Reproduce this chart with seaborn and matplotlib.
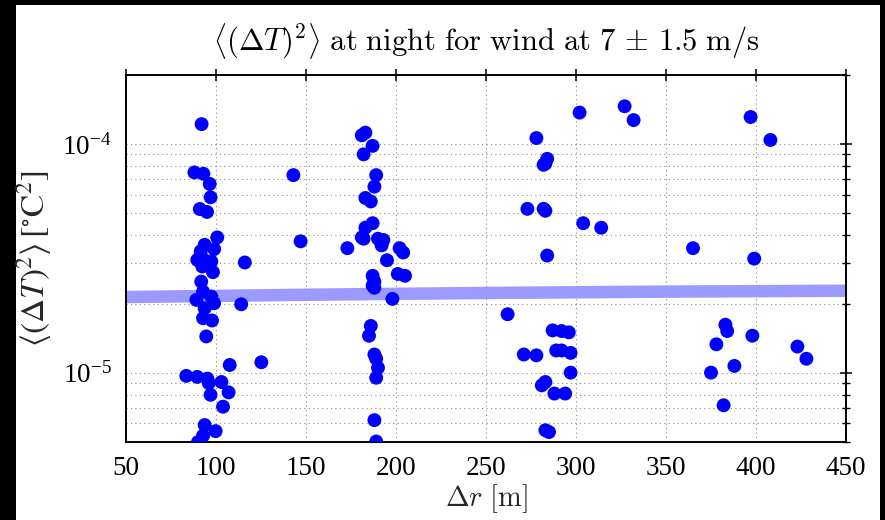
import matplotlib
matplotlib.use("Agg")
import matplotlib.pyplot as plt
import matplotlib.ticker as mticker
from matplotlib.patches import Rectangle
import numpy as np
import pandas as pd
import seaborn as sns

# separation distance [m] and temperature-difference variance [°C^2],
# grouped by sensor-pair spacing
dr_100 = [92, 88, 93, 96.5, 97, 91, 95, 100.7, 93.7, 99, 91.5, 89.6, 93, 97.4,
          92.4, 98.3, 116, 91.8, 92.8, 89.1, 97.4, 98.9, 93.7, 114, 92.8, 97.8,
          94.6, 107.6, 125.2, 83.5, 89.6, 95.2, 96, 103, 97, 107, 103.9, 93.7,
          99.8, 92.8, 90]
var_100 = [1.22e-4, 7.5e-5, 7.4e-5, 6.68e-5, 5.84e-5, 5.19e-5, 5.04e-5, 3.9e-5,
           3.62e-5, 3.47e-5, 3.39e-5, 3.11e-5, 3.13e-5, 3.06e-5, 2.91e-5, 2.75e-5,
           3.03e-5, 2.5e-5, 2.26e-5, 2.08e-5, 2.15e-5, 2.01e-5, 1.91e-5, 1.99e-5,
           1.73e-5, 1.69e-5, 1.44e-5, 1.08e-5, 1.11e-5, 9.68e-6, 9.58e-6, 9.42e-6,
           9.0e-6, 9.1e-6, 8.0e-6, 8.2e-6, 7.1e-6, 5.9e-6, 5.55e-6, 5.3e-6, 4.97e-6]

dr_190 = [183, 181, 187, 182, 189, 188, 183, 186, 187, 183,
          181, 182, 190, 193, 192, 173, 147, 143, 202, 204,
          195, 201, 205, 187, 188, 188, 187, 186, 198, 185,
          188, 189, 190, 189, 188, 189]
var_190 = [1.12e-4, 1.09e-4, 9.8e-5, 9.0e-5, 7.3e-5, 6.5e-5, 5.8e-5, 5.6e-5, 4.5e-5, 4.3e-5,
           3.9e-5, 3.85e-5, 3.85e-5, 3.8e-5, 3.6e-5, 3.5e-5, 3.75e-5, 7.3e-5, 3.5e-5, 3.35e-5,
           3.1e-5, 2.7e-5, 2.65e-5, 2.65e-5, 2.5e-5, 2.35e-5, 2.4e-5, 1.6e-5, 2.1e-5, 1.45e-5,
           1.2e-5, 1.15e-5, 1.05e-5, 9.5e-6, 6.2e-6, 5.0e-6]

dr_285 = [278, 284, 283, 282, 273, 282, 283, 284, 262, 271,
          278, 287, 289, 292, 296, 292, 297, 297, 281, 283,
          288, 294, 283, 285, 302, 304, 314]
var_285 = [1.06e-4, 8.6e-5, 8.2e-5, 8.1e-5, 5.2e-5, 5.2e-5, 5.1e-5, 3.25e-5, 1.8e-5, 1.2e-5,
           1.19e-5, 1.53e-5, 1.25e-5, 1.52e-5, 1.5e-5, 1.25e-5, 1.22e-5, 1.0e-5, 8.8e-6, 9.1e-6,
           8.1e-6, 8.1e-6, 5.6e-6, 5.5e-6, 1.37e-4, 4.5e-5, 4.3e-5]

dr_390 = [327, 332, 365, 375, 378, 383, 384, 388, 382,
          397, 408, 399, 398, 423, 428]
var_390 = [1.46e-4, 1.27e-4, 3.5e-5, 1.0e-5, 1.33e-5, 1.62e-5, 1.52e-5, 1.07e-5, 7.2e-6,
           1.31e-4, 1.04e-4, 3.15e-5, 1.45e-5, 1.3e-5, 1.15e-5]

# fitted mean level across the separation range
fit_dr = [50, 150, 250, 350, 450]
fit_var = [2.14e-5, 2.19e-5, 2.23e-5, 2.26e-5, 2.28e-5]

x_ticks = [50, 100, 150, 200, 250, 300, 350, 400, 450]

pts = pd.DataFrame({"dr": dr_100 + dr_190 + dr_285 + dr_390,
                    "var": var_100 + var_190 + var_285 + var_390})
fit = pd.DataFrame({"dr": fit_dr, "var": fit_var})

sns.set_style("white")
plt.rcParams["font.family"] = ["Liberation Serif", "DejaVu Serif"]

fig = plt.figure(figsize=(8.85, 5.2), dpi=100, facecolor="black")
# white page inside the black frame
fig.patches.append(Rectangle((16 / 885, 0), 864 / 885, 515 / 520,
                             transform=fig.transFigure, facecolor="white",
                             edgecolor="none", zorder=-10))
ax = fig.add_axes([126 / 885, 1 - 441.5 / 520, 720 / 885, 366.5 / 520])
ax.set_facecolor("white")

sns.lineplot(data=fit, x="dr", y="var", ax=ax, color="#9b9bff",
             linewidth=9, solid_capstyle="butt", zorder=2)
sns.scatterplot(data=pts, x="dr", y="var", ax=ax, color="#0000ff",
                s=100, edgecolor="none", linewidth=0, zorder=3)

ax.set_yscale("log")
ax.set_xlim(50, 450)
ax.set_ylim(5e-6, 2e-4)
ax.set_xticks(x_ticks)
ax.yaxis.set_major_locator(mticker.LogLocator(base=10, numticks=10))
ax.yaxis.set_minor_locator(mticker.LogLocator(base=10, subs=np.arange(2, 10), numticks=20))
ax.yaxis.set_minor_formatter(mticker.NullFormatter())

ax.grid(True, which="major", axis="x", linestyle=(0, (1, 3)), color="#888888", linewidth=0.8)
ax.grid(True, which="both", axis="y", linestyle=(0, (1, 3)), color="#888888", linewidth=0.8)
ax.set_axisbelow(True)

ax.tick_params(which="both", direction="inout", top=True, right=True,
               colors="black", labelsize=19.5, pad=6)
ax.tick_params(which="major", length=9, width=1.1)
ax.tick_params(which="minor", length=6, width=1.0)
for lab in ax.get_yticklabels() + ax.get_xticklabels():
    lab.set_math_fontfamily("stix")
for s in ax.spines.values():
    s.set_color("black")
    s.set_linewidth(1.4)
    s.set_visible(True)

ax.set_xlabel(r"$\Delta r\ [\mathrm{m}]$", fontsize=20.5, math_fontfamily="cm", labelpad=1)
ax.set_ylabel(r"$\left\langle(\Delta T)^2\right\rangle\,[^{\circ}\mathrm{C}^2]$",
              fontsize=24, math_fontfamily="stix", labelpad=6)
ax.set_title(r"$\left\langle(\Delta T)^2\right\rangle\ \mathrm{at\ night\ for\ wind\ at\ }7\,\pm\,1.5\ \mathrm{m/s}$",
             fontsize=22, math_fontfamily="cm", pad=18, color="black")

fig.savefig("out.png", dpi=100, facecolor=fig.get_facecolor())
